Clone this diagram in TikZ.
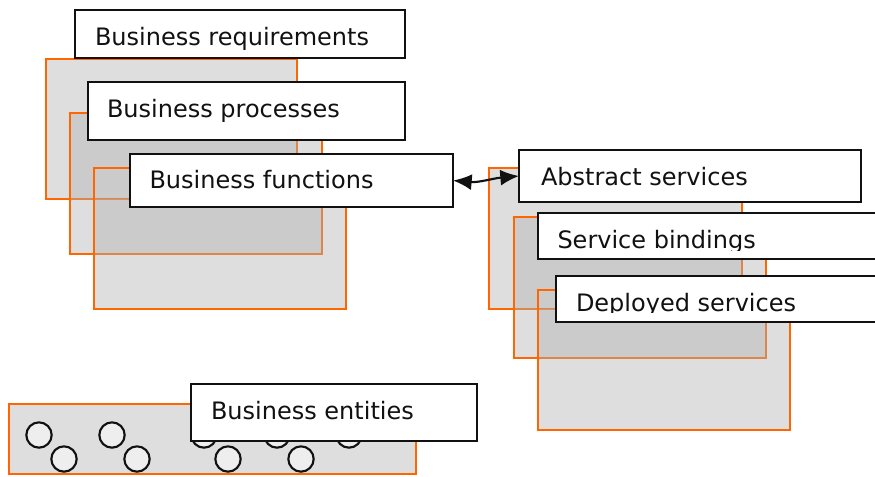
\documentclass[tikz,border=0pt]{standalone}
\usepackage{fontspec}
\setmainfont{DejaVu Sans}
\usetikzlibrary{arrows.meta,fit}
\definecolor{borange}{HTML}{FF6600}
\definecolor{lgray}{HTML}{DEDEDE}
\definecolor{mgray}{HTML}{B2B2B2}
\definecolor{cgray}{HTML}{EEEEEE}
\definecolor{ink}{HTML}{111111}
\tikzset{
  layer/.style={draw=borange, line width=1.7pt},
  basefill/.style={fill=lgray},
  upperfill/.style={fill=mgray, fill opacity=0.43},
  lbl/.style={draw=ink, fill=white, line width=1.8pt, rectangle, inner sep=0pt, outer sep=0pt},
  txt/.style={anchor=base west, inner sep=0pt, outer sep=0pt, font=\fontsize{18}{21}\selectfont, text=ink},
  ent/.style={circle, draw=ink, fill=cgray, line width=1.6pt, minimum size=19pt, inner sep=0pt},
  tip/.tip={Latex[length=14pt,width=12pt]},
  link/.style={draw=ink, line width=1.6pt, tip-tip}
}
\begin{document}
\begin{tikzpicture}[x=0.75pt,y=-0.75pt]
\useasboundingbox (0,0) rectangle (875,476);

% ---- left stack of layers ----
\fill[basefill] (46,59) rectangle (297,199);
\draw[layer] (46,59) rectangle (297,199);
\fill[upperfill] (70,113) rectangle (322,254);
\draw[layer] (70,113) rectangle (322,254);
\begin{scope}[even odd rule]
  \clip (94,168) rectangle (346,309) (70,113) rectangle (297,199);
  \fill[upperfill] (94,168) rectangle (346,309);
\end{scope}
\draw[layer] (94,168) rectangle (346,309);

% ---- right stack of layers ----
\fill[basefill] (489,168) rectangle (742,309);
\draw[layer] (489,168) rectangle (742,309);
\fill[upperfill] (514,217) rectangle (766,358);
\draw[layer] (514,217) rectangle (766,358);
\begin{scope}[even odd rule]
  \clip (538,290) rectangle (790,430) (514,217) rectangle (742,309);
  \fill[upperfill] (538,290) rectangle (790,430);
\end{scope}
\draw[layer] (538,290) rectangle (790,430);

% ---- entities layer ----
\fill[basefill] (9,404) rectangle (416,474);
\draw[layer] (9,404) rectangle (416,474);
\node[ent] (e1) at (39,435) {};
\node[ent] (e2) at (112,435) {};
\node[ent] (e3) at (204,435) {};
\node[ent] (e4) at (277,435) {};
\node[ent] (e5) at (349,435) {};
\node[ent] (e6) at (64,459) {};
\node[ent] (e7) at (137,459) {};
\node[ent] (e8) at (228,459) {};
\node[ent] (e9) at (301,459) {};

% ---- label boxes ----
\node[lbl, fit={(75,10) (405,58)}] (br) {};
\node[txt] (brt) at (95,45) {Business requirements};
\node[lbl, fit={(88,82) (405,140)}] (bp) {};
\node[txt] (bpt) at (107,117) {Business processes};
\node[lbl, fit={(130,154) (453,207)}] (bf) {};
\node[txt] (bft) at (149.5,188) {Business functions};

\node[lbl, fit={(519,150) (861,202)}] (as) {};
\node[txt] (ast) at (541,185) {Abstract services};
\node[lbl, fit={(538,213) (895,259)}] (sb) {};
\begin{scope}
  \clip (540,215) rectangle (893,250);
  \node[txt] (sbt) at (557.5,248) {Service bindings};
\end{scope}
\node[lbl, fit={(556,276) (895,322)}] (ds) {};
\begin{scope}
  \clip (558,278) rectangle (893,312.5);
  \node[txt] (dst) at (576,311) {Deployed services};
\end{scope}

\node[lbl, fit={(191,384) (477,441)}] (be) {};
\node[txt] (bet) at (211,419) {Business entities};

% ---- connector ----
\draw[link] (bf.east) to[out=-5,in=185] (as.west);
\end{tikzpicture}
\end{document}
